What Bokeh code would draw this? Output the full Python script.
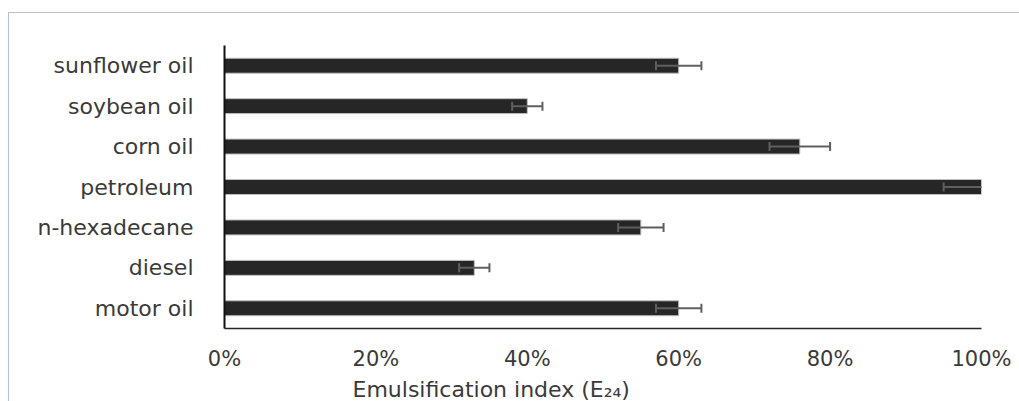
from bokeh.plotting import figure
from bokeh.models import (ColumnDataSource, FactorRange, Range1d, PrintfTickFormatter,
                          FixedTicker, Title)
from bokeh.embed import file_html
from bokeh.resources import INLINE

categories = ["sunflower oil", "soybean oil", "corn oil", "petroleum",
              "n-hexadecane", "diesel", "motor oil"]
values = [60, 40, 76, 100, 55, 33, 60]
errors = [3, 2, 4, 5, 3, 2, 3]
x_ticks = [0, 20, 40, 60, 80, 100]
x_title = "Emulsification index (E\u2082\u2084)"

FONT = "DejaVu Sans"

src = ColumnDataSource(dict(
    cat=categories,
    val=values,
    lo=[v - e for v, e in zip(values, errors)],
    hi=[v + e for v, e in zip(values, errors)],
))

p = figure(output_backend="svg", toolbar_location=None,
           y_range=FactorRange(factors=list(reversed(categories)), range_padding=0),
           x_range=Range1d(0, 100),
           min_border_left=215, min_border_right=38, min_border_top=32,
           min_border_bottom=73, frame_width=757, frame_height=283,
           margin=(12, 0, 0, 8),
           styles={"border-left": "1px solid #b4c0d6", "border-top": "1px solid #bfbfbf"})

p.hbar(y="cat", right="val", left=0, height=0.37, source=src,
       fill_color="#262626", line_color="#bfbfbf", line_width=1)

# error bars
p.segment(x0="lo", x1="hi", y0="cat", y1="cat", source=src,
          line_color="#5f5f5f", line_width=2)
p.rect(x="lo", y="cat", width=2, height=9, width_units="screen", height_units="screen",
       source=src, fill_color="#5f5f5f", line_color=None)
p.rect(x="hi", y="cat", width=2, height=9, width_units="screen", height_units="screen",
       source=src, fill_color="#5f5f5f", line_color=None)

p.xgrid.visible = False
p.ygrid.visible = False
p.outline_line_color = None

xa = p.xaxis[0]
xa.ticker = FixedTicker(ticks=x_ticks)
xa.formatter = PrintfTickFormatter(format="%d%%")
xa.major_tick_line_color = None
xa.minor_tick_line_color = None
xa.major_tick_out = 0
xa.major_label_standoff = 18
xa.major_label_text_font = FONT
xa.major_label_text_font_size = "21px"
xa.major_label_text_color = "#3a3a3a"
xa.axis_line_color = "#262626"
xa.axis_line_width = 1.5

ya = p.yaxis[0]
ya.major_tick_line_color = None
ya.minor_tick_line_color = None
ya.major_tick_out = 0
ya.major_label_standoff = 31
ya.major_label_text_font = FONT
ya.major_label_text_font_size = "22px"
ya.major_label_text_color = "#3a3a3a"
ya.axis_line_color = "#111111"
ya.axis_line_width = 2

p.add_layout(Title(text=x_title, align="left", offset=128, standoff=3,
                   text_font=FONT, text_font_size="22px", text_font_style="normal",
                   text_color="#3a3a3a"), "below")

open("out.html", "w").write(file_html(p, INLINE))
